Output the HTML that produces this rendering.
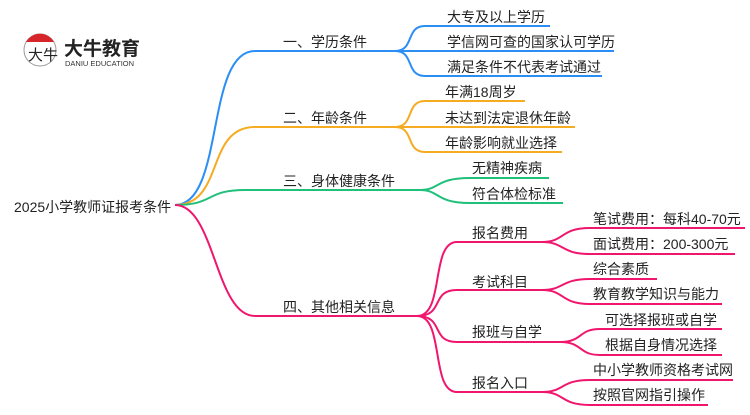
<!DOCTYPE html>
<html><head><meta charset="utf-8"><style>
html,body{margin:0;padding:0;background:#fff;}
svg text{font-family:"Liberation Sans","Noto Sans CJK SC",sans-serif;fill:#222;}
</style></head><body>
<svg width="750" height="410" viewBox="0 0 750 410" xmlns="http://www.w3.org/2000/svg">
<g fill="none" stroke-width="2">
<!-- blue -->
<g stroke="#2b8ef5">
<path d="M175,205 C225,205 205,51 255,51 L395,51"/>
<path d="M395,51 C415,51 405,26 425,26 L550,26"/>
<path d="M395,51 L614,51"/>
<path d="M395,51 C415,51 405,76 425,76 L602,76"/>
</g>
<g stroke="#f5ab22">
<path d="M175,205 C225,205 205,127 255,127 L395,127"/>
<path d="M395,127 C415,127 405,101 425,101 L525,101"/>
<path d="M395,127 L575,127"/>
<path d="M395,127 C415,127 405,152 425,152 L562,152"/>
</g>
<g stroke="#21c07a">
<path d="M175,205 C215,205 205,190 245,190 L420,190"/>
<path d="M420,190 C440,190 435,178 470,178 L549,178"/>
<path d="M420,190 C440,190 435,203 470,203 L563,203"/>
</g>
<g stroke="#f0166e">
<path d="M175,205 C215,205 215,316 255,316 L417,316"/>
<path d="M417,316 C445,316 430,242 457,242 L542,242"/>
<path d="M417,316 C445,316 430,290 457,290 L542,290"/>
<path d="M417,316 C445,316 430,342 457,342 L560,342"/>
<path d="M417,316 C445,316 430,392 457,392 L542,392"/>
<path d="M542,242 C565,242 560,228 590,228 L745,228"/>
<path d="M542,242 C565,242 560,254 590,254 L735,254"/>
<path d="M542,290 C565,290 560,279 590,279 L657,279"/>
<path d="M542,290 C565,290 560,304 590,304 L722,304"/>
<path d="M560,342 C583,342 578,329 600,329 L722,329"/>
<path d="M560,342 C583,342 578,355 600,355 L722,355"/>
<path d="M542,392 C565,392 560,380 590,380 L733,380"/>
<path d="M542,392 C565,392 560,405 590,405 L708,405"/>
</g>
</g>
<!-- logo -->
<circle cx="40" cy="50" r="16" fill="#fff" stroke="#999" stroke-width="1"/>
<path d="M26,42 A16,16 0 0 1 54,42 Z" fill="#d7262b"/>
<text x="28" y="60" font-size="15" font-family="Liberation Serif,Noto Serif CJK SC,serif">大牛</text>
<text x="64" y="55" font-size="19" font-weight="bold" style="fill:#222">大牛教育</text>
<text x="65" y="66" font-size="7.5" style="fill:#333">DANIU EDUCATION</text>
<g font-size="14">
<text x="14" y="212">2025小学教师证报考条件</text>
<text x="283" y="47">一、学历条件</text>
<text x="283" y="123">二、年龄条件</text>
<text x="283" y="186">三、身体健康条件</text>
<text x="283" y="312">四、其他相关信息</text>
<text x="447" y="22">大专及以上学历</text>
<text x="447" y="47">学信网可查的国家认可学历</text>
<text x="447" y="72">满足条件不代表考试通过</text>
<text x="445" y="97">年满18周岁</text>
<text x="445" y="123">未达到法定退休年龄</text>
<text x="445" y="148">年龄影响就业选择</text>
<text x="472" y="173">无精神疾病</text>
<text x="472" y="199">符合体检标准</text>
<text x="472" y="238">报名费用</text>
<text x="472" y="287">考试科目</text>
<text x="472" y="337">报班与自学</text>
<text x="472" y="388">报名入口</text>
<text x="593" y="224">笔试费用：每科40-70元</text>
<text x="593" y="249">面试费用：200-300元</text>
<text x="593" y="274">综合素质</text>
<text x="593" y="299">教育教学知识与能力</text>
<text x="605" y="325">可选择报班或自学</text>
<text x="605" y="350">根据自身情况选择</text>
<text x="593" y="375">中小学教师资格考试网</text>
<text x="593" y="400">按照官网指引操作</text>
</g>
</svg>
</body></html>
